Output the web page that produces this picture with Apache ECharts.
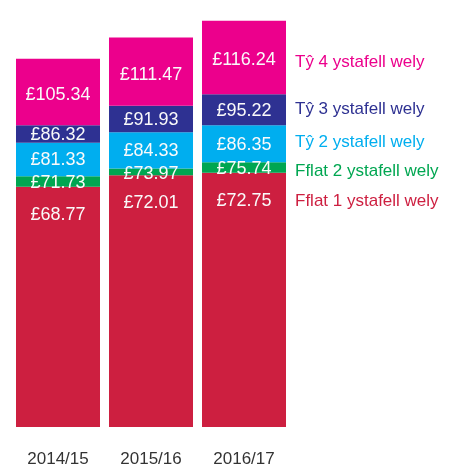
<!DOCTYPE html>
<html><head><meta charset="utf-8">
<script src="https://cdn.jsdelivr.net/npm/echarts@6/dist/echarts.min.js"></script>
<style>html,body{margin:0;padding:0;background:#fff}#c{width:462px;height:468px}</style>
</head><body><div id="c"></div>
<script>
const categories = ['2014/15', '2015/16', '2016/17'];
const seriesNames = ['Fflat 1 ystafell wely', 'Fflat 2 ystafell wely', 'Tŷ 2 ystafell wely', 'Tŷ 3 ystafell wely', 'Tŷ 4 ystafell wely'];
const fflat1 = [68.77, 72.01, 72.75];
const fflat2 = [71.73, 73.97, 75.74];
const ty2 = [81.33, 84.33, 86.35];
const ty3 = [86.32, 91.93, 95.22];
const ty4 = [105.34, 111.47, 116.24];
const colors = ['#CD1F40', '#00A651', '#00AEEF', '#2E3192', '#EC008C'];

const FONT = "'Liberation Sans', Arial, sans-serif";
const values = [fflat1, fflat2, ty2, ty3, ty4];
const valueOffsets = [[0, 0], [0, 2], [0, 1], [0, 1], [0, 3]];
const legendOffsets = [[9, 29], [0, 4], [0, -1], [0, 0], [0, 5]];

const series = [];
values.forEach((arr, si) => {
  const diffs = arr.map((v, i) => si === 0 ? v : +(v - values[si - 1][i]).toFixed(2));
  series.push({
    type: 'bar', name: seriesNames[si], stack: 'a', barWidth: 84, barGap: '-100%',
    data: diffs,
    itemStyle: { color: colors[si] },
    label: {
      show: true,
      position: si === 0 ? 'insideTop' : 'inside',
      distance: 19,
      offset: valueOffsets[si],
      color: '#fafafa', fontSize: 18, fontFamily: FONT,
      formatter: p => '£' + arr[p.dataIndex].toFixed(2)
    },
    z: 2
  });
});
values.forEach((arr, si) => {
  const diffs = arr.map((v, i) => si === 0 ? v : +(v - values[si - 1][i]).toFixed(2));
  series.push({
    type: 'bar', name: seriesNames[si] + ' label', stack: 'b', barWidth: 84, barGap: '-100%',
    data: diffs,
    itemStyle: { color: 'rgba(0,0,0,0)' },
    silent: true,
    label: {
      show: true,
      position: si === 0 ? ['100%', 0] : 'right',
      align: 'left', verticalAlign: 'middle',
      distance: 9,
      offset: legendOffsets[si],
      color: colors[si], fontSize: 17, fontFamily: FONT,
      formatter: p => p.dataIndex === categories.length - 1 ? seriesNames[si] : ''
    },
    z: 3
  });
});

const chart = echarts.init(document.getElementById('c'), null, { renderer: 'canvas' });
chart.setOption({
  animation: false,
  grid: { left: 11.5, right: 171.5, top: 7.6, bottom: 41 },
  xAxis: {
    type: 'category', data: categories,
    axisLine: { show: false }, axisTick: { show: false },
    axisLabel: { color: '#333', fontSize: 17, fontFamily: FONT, margin: 24, interval: 0 }
  },
  yAxis: { type: 'value', min: 0, max: 120, show: false, splitLine: { show: false } },
  series: series
});
</script></body></html>
